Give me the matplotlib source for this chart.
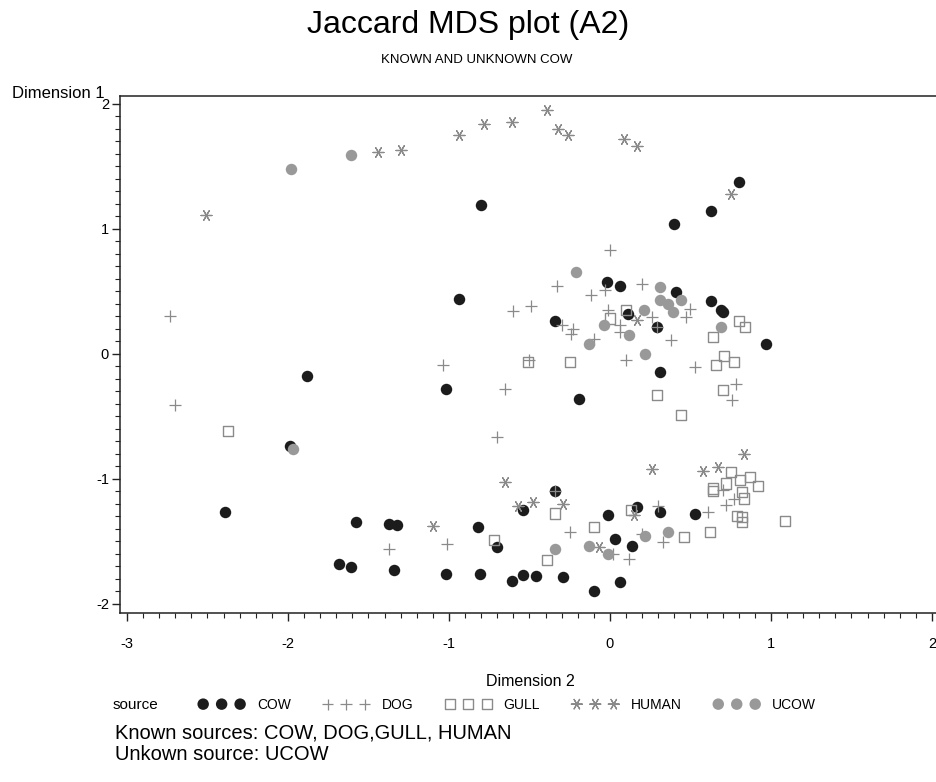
import matplotlib
matplotlib.use("Agg")
import matplotlib.pyplot as plt
from matplotlib.ticker import MultipleLocator, FixedLocator

plt.rcParams['font.family'] = ['Liberation Sans', 'DejaVu Sans']
plt.rcParams['axes.unicode_minus'] = False

# ---------------- data (Dimension 2 = x, Dimension 1 = y) ----------------
cow_x = [-0.80, 0.80, 0.63, 0.40,
         -0.94, -0.02, 0.06, 0.41, 0.63, 0.69, 0.70, -0.34, 0.11, 0.29, 0.97, -1.02, -0.19, 0.31,
         -1.88, -1.99, -2.39,
         0.17, 0.31, 0.53, -0.01, 0.03, 0.14, -0.29, 0.06, -0.10,
         -1.58, -1.37, -1.32, -0.82, -0.70, -0.54, -0.34,
         -1.68, -1.61, -1.34, -1.02, -0.81, -0.61, -0.54, -0.46]
cow_y = [1.19, 1.37, 1.14, 1.04,
         0.44, 0.57, 0.54, 0.49, 0.42, 0.35, 0.33, 0.26, 0.32, 0.21, 0.08, -0.28, -0.36, -0.15,
         -0.18, -0.74, -1.27,
         -1.23, -1.27, -1.28, -1.29, -1.48, -1.54, -1.79, -1.83, -1.90,
         -1.35, -1.36, -1.37, -1.39, -1.55, -1.25, -1.10,
         -1.68, -1.71, -1.73, -1.76, -1.76, -1.82, -1.77, -1.78]

dog_x = [-2.73, -2.70, -0.70,
         0.00, -0.33, -0.12, -0.03, 0.20, -0.60, -0.49, -0.01, -0.30, -0.23, -0.24, 0.06, 0.06,
         -0.10, 0.26, 0.50, 0.47, 0.38, 0.53, 0.10, -1.04, -0.50, -0.65, 0.78, 0.76, 0.29,
         0.70, 0.77, 0.72, 0.61, 0.30, 0.20, 0.33, -0.25, 0.02, 0.12,
         -1.37, -1.01, -0.34]
dog_y = [0.30, -0.41, -0.67,
         0.83, 0.54, 0.47, 0.51, 0.56, 0.34, 0.38, 0.35, 0.23, 0.20, 0.16, 0.23, 0.17,
         0.12, 0.29, 0.36, 0.29, 0.11, -0.11, -0.05, -0.09, -0.05, -0.28, -0.24, -0.37, 0.21,
         -1.09, -1.16, -1.21, -1.27, -1.22, -1.44, -1.51, -1.43, -1.60, -1.64,
         -1.56, -1.52, -1.10]

gull_x = [-2.37,
          0.10, 0.00, -0.51, -0.25, 0.64, 0.80, 0.84, 0.66, 0.71, 0.77, 0.70, 0.29, 0.44,
          0.75, 0.81, 0.87, 0.92, 0.64, 0.64, 0.72, 0.82, 0.83, 0.79, 0.82, 0.82, 1.09, 0.62,
          0.46, 0.13, -0.10,
          -0.72, -0.34, -0.39]
gull_y = [-0.62,
          0.35, 0.28, -0.07, -0.07, 0.13, 0.26, 0.21, -0.09, -0.02, -0.07, -0.29, -0.33, -0.49,
          -0.95, -1.01, -0.99, -1.06, -1.08, -1.10, -1.04, -1.11, -1.16, -1.30, -1.31, -1.35, -1.34, -1.43,
          -1.47, -1.25, -1.39,
          -1.49, -1.28, -1.65]

human_x = [-2.51, -1.44, -1.30, -0.94, -0.78, -0.61, -0.39, -0.32, -0.26, 0.09, 0.17, 0.75, 0.17,
           0.83, 0.26, 0.58, 0.67, 0.15, -0.07, -0.29, -0.65, -1.10, -0.57, -0.48]
human_y = [1.11, 1.61, 1.63, 1.75, 1.84, 1.85, 1.95, 1.80, 1.75, 1.72, 1.66, 1.28, 0.27,
           -0.80, -0.92, -0.94, -0.91, -1.29, -1.55, -1.20, -1.03, -1.38, -1.22, -1.19]

ucow_x = [-1.98, -1.61, -1.97,
          -0.21, 0.31, 0.31, 0.36, 0.44, 0.39, 0.21, -0.04, 0.12, -0.13, 0.69, 0.22,
          -0.13, -0.01, 0.22, 0.36, -0.34]
ucow_y = [1.48, 1.59, -0.76,
          0.65, 0.53, 0.43, 0.40, 0.43, 0.33, 0.35, 0.23, 0.15, 0.08, 0.21, 0.00,
          -1.54, -1.60, -1.46, -1.43, -1.56]

x_ticks = [-3, -2, -1, 0, 1, 2]
y_ticks = [-2, -1, 0, 1, 2]
legend_labels = ["COW", "DOG", "GULL", "HUMAN", "UCOW"]

# ---------------- figure ----------------
W, H = 937, 782
fig = plt.figure(figsize=(W / 100, H / 100), dpi=100)
ax = fig.add_axes([120 / W, 1 - 613 / H, (936 - 120) / W, (613 - 96) / H])

black = "#1c1c1c"
gray = "#8a8a8a"
ugray = "#999999"

h1 = ax.scatter(cow_x, cow_y, s=68, marker='o', color=black, linewidths=0, zorder=3)
h2 = ax.scatter(dog_x, dog_y, s=65, marker='+', color=gray, linewidths=0.9, zorder=4)
h3 = ax.scatter(gull_x, gull_y, s=52, marker='s', facecolors='none', edgecolors=gray,
                linewidths=1.0, zorder=5)
h4 = ax.scatter(human_x, human_y, s=62, marker=(6, 2, 90), color=gray, linewidths=0.9, zorder=6)
h5 = ax.scatter(ucow_x, ucow_y, s=68, marker='o', color=ugray, linewidths=0, zorder=7)

ax.set_xlim(-3.043, 2.025)
ax.set_ylim(-2.076, 2.06)

ax.xaxis.set_major_locator(FixedLocator(x_ticks))
ax.yaxis.set_major_locator(FixedLocator(y_ticks))
ax.xaxis.set_minor_locator(MultipleLocator(0.1))
ax.yaxis.set_minor_locator(MultipleLocator(0.1))
ax.tick_params(axis='both', which='major', direction='out', length=6, width=1.0,
               labelsize=10.5, color='#222222')
ax.tick_params(axis='both', which='minor', direction='out', length=3.5, width=0.8,
               color='#222222')
ax.tick_params(axis='x', which='major', pad=11)
ax.tick_params(axis='y', which='major', pad=2)

for sp in ['left', 'bottom', 'top']:
    ax.spines[sp].set_color('#222222')
    ax.spines[sp].set_linewidth(1.1)
ax.spines['right'].set_visible(False)

# axis labels
fig.text(12 / W, 1 - 93 / H, "Dimension 1", fontsize=12, ha='left', va='center')
fig.text(530 / W, 1 - 682 / H, "Dimension 2", fontsize=11.5, ha='center', va='center')

# titles
fig.text(468 / W, 1 - 25 / H, "Jaccard MDS plot (A2)", fontsize=23, ha='center', va='center')
fig.text(477 / W, 1 - 60 / H, "KNOWN AND UNKNOWN COW", fontsize=9.5, ha='center', va='center')

# legend
fig.text(113 / W, 1 - 705 / H, "source", fontsize=11, ha='left', va='center')
fs = 10
leg = fig.legend([h1, h2, h3, h4, h5], legend_labels, loc='center left',
                 bbox_to_anchor=(199 / W, 1 - 705 / H), ncol=5, frameon=False,
                 scatterpoints=3, scatteryoffsets=[0.5], fontsize=fs,
                 handlelength=3.26, handletextpad=0.92, columnspacing=2.34,
                 borderpad=0, borderaxespad=0)

# footnote
fig.text(115 / W, 1 - 733 / H, "Known sources: COW, DOG,GULL, HUMAN", fontsize=14.5,
         ha='left', va='center')
fig.text(115 / W, 1 - 755 / H, "Unkown source: UCOW", fontsize=14.5, ha='left', va='center')

fig.savefig("out.png", dpi=100)
